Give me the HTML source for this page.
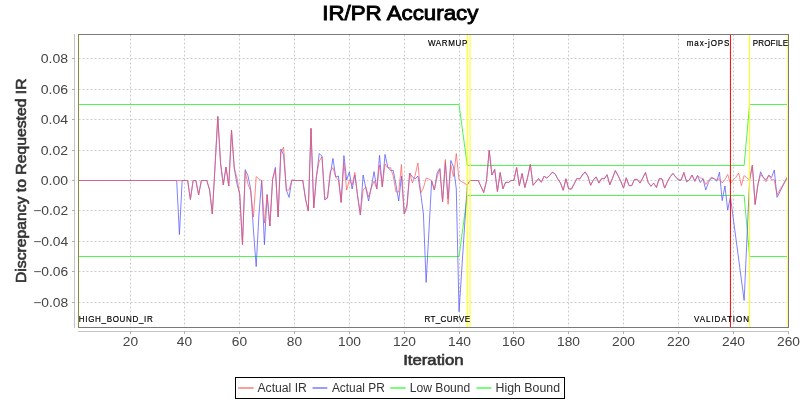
<!DOCTYPE html>
<html><head><meta charset="utf-8"><style>
html,body{margin:0;padding:0;background:#fff;width:800px;height:400px;overflow:hidden}
svg{display:block;will-change:transform}
text{font-family:"Liberation Sans",sans-serif}
</style></head><body>
<svg width="800" height="400" viewBox="0 0 800 400">
<rect width="800" height="400" fill="#fff"/>
<g stroke="#cccccc" stroke-width="1" stroke-dasharray="2 2"><line x1="130.5" y1="34.5" x2="130.5" y2="327" /><line x1="184.5" y1="34.5" x2="184.5" y2="327" /><line x1="239.5" y1="34.5" x2="239.5" y2="327" /><line x1="294.5" y1="34.5" x2="294.5" y2="327" /><line x1="349.5" y1="34.5" x2="349.5" y2="327" /><line x1="404.5" y1="34.5" x2="404.5" y2="327" /><line x1="459.5" y1="34.5" x2="459.5" y2="327" /><line x1="513.5" y1="34.5" x2="513.5" y2="327" /><line x1="568.5" y1="34.5" x2="568.5" y2="327" /><line x1="623.5" y1="34.5" x2="623.5" y2="327" /><line x1="678.5" y1="34.5" x2="678.5" y2="327" /><line x1="733.5" y1="34.5" x2="733.5" y2="327" /><line x1="788.5" y1="34.5" x2="788.5" y2="327" /></g>
<g stroke="#cccccc" stroke-width="1" stroke-dasharray="2 2"><line x1="78.5" y1="302.5" x2="788" y2="302.5" /><line x1="78.5" y1="271.5" x2="788" y2="271.5" /><line x1="78.5" y1="241.5" x2="788" y2="241.5" /><line x1="78.5" y1="210.5" x2="788" y2="210.5" /><line x1="78.5" y1="180.5" x2="788" y2="180.5" /><line x1="78.5" y1="150.5" x2="788" y2="150.5" /><line x1="78.5" y1="119.5" x2="788" y2="119.5" /><line x1="78.5" y1="89.5" x2="788" y2="89.5" /><line x1="78.5" y1="58.5" x2="788" y2="58.5" /></g>
<polyline points="78.00,256.50 459.04,256.50 467.27,195.50 744.14,195.50 749.62,256.50 788.00,256.50" fill="none" stroke="#50f550" stroke-width="1"/>
<polyline points="78.00,104.50 459.04,104.50 467.27,165.50 744.14,165.50 749.62,104.50 788.00,104.50" fill="none" stroke="#50f550" stroke-width="1"/>
<polyline points="78.00,180.50 80.74,180.50 83.48,180.50 86.22,180.50 88.97,180.50 91.71,180.50 94.45,180.50 97.19,180.50 99.93,180.50 102.67,180.50 105.41,180.50 108.15,180.50 110.90,180.50 113.64,180.50 116.38,180.50 119.12,180.50 121.86,180.50 124.60,180.50 127.34,180.50 130.08,180.50 132.83,180.50 135.57,180.50 138.31,180.50 141.05,180.50 143.79,180.50 146.53,180.50 149.27,180.50 152.02,180.50 154.76,180.50 157.50,180.50 160.24,180.50 162.98,180.50 165.72,180.50 168.46,180.50 171.20,180.50 173.95,180.50 176.69,180.50 179.43,234.50 182.17,180.50 184.91,180.50 187.65,180.50 190.39,199.50 193.14,180.50 195.88,180.50 198.62,195.00 201.36,180.50 204.10,180.50 206.84,180.50 209.58,190.00 212.32,214.00 215.07,165.50 217.81,116.50 220.55,163.00 223.29,185.00 226.03,167.00 228.77,186.00 231.51,130.00 234.25,168.00 237.00,184.00 239.74,194.00 242.48,244.50 245.22,169.60 247.96,175.60 250.70,189.00 253.44,230.00 256.19,266.60 258.93,215.00 261.67,180.50 264.41,244.60 267.15,194.60 269.89,226.00 272.63,179.00 275.37,167.40 278.12,217.00 280.86,149.00 283.60,155.00 286.34,190.00 289.08,197.40 291.82,180.00 294.56,180.50 297.31,180.50 300.05,180.50 302.79,180.50 305.53,199.00 308.27,211.00 311.01,128.40 313.75,208.00 316.49,176.00 319.24,153.60 321.98,156.00 324.72,200.00 327.46,198.00 330.20,175.00 332.94,158.40 335.68,177.00 338.42,176.00 341.17,202.40 343.91,155.60 346.65,180.00 349.39,172.00 352.13,189.00 354.87,175.00 357.61,196.00 360.36,215.00 363.10,175.00 365.84,188.00 368.58,201.00 371.32,187.00 374.06,171.60 376.80,189.00 379.54,155.40 382.29,187.00 385.03,154.40 387.77,167.00 390.51,170.40 393.25,170.40 395.99,185.00 398.73,201.00 401.47,176.00 404.22,214.00 406.96,205.00 409.70,173.00 412.44,177.00 415.18,179.00 417.92,176.00 420.66,193.00 423.41,214.00 426.15,282.40 428.89,232.00 431.63,181.00 434.37,190.00 437.11,173.00 439.85,168.50 442.59,202.00 445.34,162.50 448.08,199.00 450.82,160.50 453.56,167.00 456.30,189.00 459.04,311.60 467.27,185.00 470.01,180.50 472.75,180.50 475.49,180.50 478.23,180.50 480.97,186.50 483.71,192.50 486.46,181.25 489.20,150.25 491.94,175.00 494.68,169.40 497.42,191.50 500.16,172.50 502.90,188.75 505.64,182.25 508.39,182.50 511.13,180.50 513.87,180.50 516.61,167.50 519.35,185.60 522.09,173.50 524.83,187.50 527.58,177.50 530.32,164.40 533.06,185.25 535.80,182.00 538.54,178.50 541.28,182.25 544.02,176.25 546.76,178.00 549.51,175.60 552.25,172.25 554.99,173.75 557.73,178.75 560.47,183.00 563.21,190.25 565.95,178.75 568.69,189.00 571.44,189.00 574.18,183.75 576.92,178.50 579.66,179.00 582.40,175.00 585.14,171.90 587.88,176.25 590.63,185.25 593.37,180.00 596.11,176.90 598.85,183.10 601.59,178.50 604.33,178.75 607.07,174.75 609.81,184.75 612.56,178.10 615.30,170.60 618.04,175.60 620.78,181.25 623.52,188.10 626.26,177.75 629.00,185.60 631.75,185.60 634.49,179.40 637.23,179.40 639.97,183.10 642.71,178.10 645.45,172.50 648.19,182.50 650.93,186.25 653.68,183.10 656.42,187.50 659.16,178.75 661.90,178.75 664.64,188.10 667.38,181.90 670.12,176.90 672.86,173.40 675.61,176.90 678.35,180.00 681.09,180.25 683.83,172.50 686.57,181.90 689.31,180.00 692.05,175.00 694.80,181.25 697.54,175.60 700.28,182.50 703.02,178.75 705.76,190.00 708.50,182.25 711.24,178.10 713.98,178.50 716.73,181.25 719.47,172.25 722.21,200.60 724.95,186.00 727.69,210.00 730.43,197.00 744.14,300.40 749.62,180.00 752.36,165.20 755.10,204.50 757.85,185.00 760.59,171.80 763.33,177.50 766.07,179.70 768.81,175.25 771.55,177.50 774.29,170.00 777.03,197.30 788.00,176.00" fill="none" stroke="#5555ff" stroke-opacity="0.75" stroke-width="1" stroke-linejoin="bevel"/>
<polyline points="78.00,180.50 80.74,180.50 83.48,180.50 86.22,180.50 88.97,180.50 91.71,180.50 94.45,180.50 97.19,180.50 99.93,180.50 102.67,180.50 105.41,180.50 108.15,180.50 110.90,180.50 113.64,180.50 116.38,180.50 119.12,180.50 121.86,180.50 124.60,180.50 127.34,180.50 130.08,180.50 132.83,180.50 135.57,180.50 138.31,180.50 141.05,180.50 143.79,180.50 146.53,180.50 149.27,180.50 152.02,180.50 154.76,180.50 157.50,180.50 160.24,180.50 162.98,180.50 165.72,180.50 168.46,180.50 171.20,180.50 173.95,180.50 176.69,180.50 179.43,180.50 182.17,180.50 184.91,180.50 187.65,180.50 190.39,199.50 193.14,180.50 195.88,180.50 198.62,195.00 201.36,180.50 204.10,180.50 206.84,180.50 209.58,190.00 212.32,214.00 215.07,165.50 217.81,116.50 220.55,163.00 223.29,185.00 226.03,167.00 228.77,186.00 231.51,130.00 234.25,168.00 237.00,178.00 239.74,195.00 242.48,244.50 245.22,171.60 247.96,184.00 250.70,191.00 253.44,217.00 256.19,176.60 258.93,179.00 261.67,180.50 264.41,223.00 267.15,194.60 269.89,226.00 272.63,179.00 275.37,170.00 278.12,217.00 280.86,153.00 283.60,147.00 286.34,190.00 289.08,190.00 291.82,180.00 294.56,180.50 297.31,180.50 300.05,180.50 302.79,180.50 305.53,199.00 308.27,211.00 311.01,128.40 313.75,208.00 316.49,176.00 319.24,161.00 321.98,157.00 324.72,198.00 327.46,198.00 330.20,171.60 332.94,167.60 335.68,177.00 338.42,180.00 341.17,202.40 343.91,163.00 346.65,190.00 349.39,180.00 352.13,185.00 354.87,172.40 357.61,196.00 360.36,215.00 363.10,190.00 365.84,187.00 368.58,197.00 371.32,188.00 374.06,181.00 376.80,189.00 379.54,165.00 382.29,187.00 385.03,164.00 387.77,168.00 390.51,167.60 393.25,176.00 395.99,192.00 398.73,192.00 401.47,164.60 404.22,214.00 406.96,208.00 409.70,173.00 412.44,183.00 415.18,175.00 417.92,163.00 420.66,193.00 423.41,188.00 426.15,178.00 428.89,179.00 431.63,180.50 434.37,190.00 437.11,177.00 439.85,169.00 442.59,202.00 445.34,159.50 448.08,204.40 450.82,165.00 453.56,176.50 456.30,153.50 459.04,180.00 467.27,185.00 470.01,180.50 472.75,180.50 475.49,180.50 478.23,180.50 480.97,186.50 483.71,192.50 486.46,181.25 489.20,150.25 491.94,175.00 494.68,169.40 497.42,191.50 500.16,172.50 502.90,188.75 505.64,182.25 508.39,182.50 511.13,180.50 513.87,180.50 516.61,167.50 519.35,185.60 522.09,173.50 524.83,187.50 527.58,177.50 530.32,164.40 533.06,185.25 535.80,182.00 538.54,178.50 541.28,182.25 544.02,176.25 546.76,178.00 549.51,175.60 552.25,172.25 554.99,173.75 557.73,178.75 560.47,183.00 563.21,190.25 565.95,178.75 568.69,189.00 571.44,189.00 574.18,183.75 576.92,178.50 579.66,179.00 582.40,175.00 585.14,171.90 587.88,176.25 590.63,185.25 593.37,180.00 596.11,176.90 598.85,183.10 601.59,178.50 604.33,178.75 607.07,174.75 609.81,184.75 612.56,178.10 615.30,170.60 618.04,175.60 620.78,181.25 623.52,188.10 626.26,177.75 629.00,185.60 631.75,185.60 634.49,179.40 637.23,179.40 639.97,183.10 642.71,178.10 645.45,172.50 648.19,182.50 650.93,186.25 653.68,183.10 656.42,187.50 659.16,178.75 661.90,178.75 664.64,188.10 667.38,181.90 670.12,176.90 672.86,173.40 675.61,176.90 678.35,179.40 681.09,180.25 683.83,172.50 686.57,181.25 689.31,180.00 692.05,175.00 694.80,181.25 697.54,175.60 700.28,177.75 703.02,178.75 705.76,184.40 708.50,180.60 711.24,177.25 713.98,178.50 716.73,180.00 719.47,178.75 722.21,183.00 724.95,179.40 727.69,174.40 730.43,183.50 733.17,180.00 735.92,177.25 738.66,173.00 741.40,185.60 744.14,175.60 746.88,178.00 749.62,180.00 752.36,165.20 755.10,204.50 757.85,185.00 760.59,174.50 763.33,177.50 766.07,181.70 768.81,175.25 771.55,179.75 774.29,179.75 777.03,194.70 788.00,176.00" fill="none" stroke="#ff5555" stroke-opacity="0.7" stroke-width="1" stroke-linejoin="bevel"/>
<g stroke-width="1">
<line x1="467.27" y1="34" x2="467.27" y2="327.5" stroke="#ffff00"/>
<line x1="470.01" y1="34" x2="470.01" y2="327.5" stroke="#ffff00"/>
<line x1="730.43" y1="34" x2="730.43" y2="327.5" stroke="#ff0000"/>
<line x1="749.62" y1="34" x2="749.62" y2="327.5" stroke="#ffff00"/>
<line x1="787.5" y1="34" x2="787.5" y2="327" stroke="#ffff70" shape-rendering="crispEdges"/>
</g>
<g shape-rendering="crispEdges" stroke-width="1" fill="none">
<line x1="78" y1="34.5" x2="789" y2="34.5" stroke="#7a7a7a"/>
<line x1="78" y1="327.5" x2="789" y2="327.5" stroke="#7a7a7a"/>
<line x1="788.5" y1="34" x2="788.5" y2="328" stroke="#7a7a7a"/>
<line x1="78.5" y1="34" x2="78.5" y2="328" stroke="#8a8a40"/>
<line x1="74.5" y1="34" x2="74.5" y2="328" stroke="#c4c4c4"/>
<line x1="78" y1="331.5" x2="789" y2="331.5" stroke="#c4c4c4"/>
<g stroke="#b0b0b0"><line x1="130.5" y1="331" x2="130.5" y2="334"/><line x1="184.5" y1="331" x2="184.5" y2="334"/><line x1="239.5" y1="331" x2="239.5" y2="334"/><line x1="294.5" y1="331" x2="294.5" y2="334"/><line x1="349.5" y1="331" x2="349.5" y2="334"/><line x1="404.5" y1="331" x2="404.5" y2="334"/><line x1="459.5" y1="331" x2="459.5" y2="334"/><line x1="513.5" y1="331" x2="513.5" y2="334"/><line x1="568.5" y1="331" x2="568.5" y2="334"/><line x1="623.5" y1="331" x2="623.5" y2="334"/><line x1="678.5" y1="331" x2="678.5" y2="334"/><line x1="733.5" y1="331" x2="733.5" y2="334"/><line x1="788.5" y1="331" x2="788.5" y2="334"/><line x1="72" y1="302.5" x2="75" y2="302.5"/><line x1="72" y1="271.5" x2="75" y2="271.5"/><line x1="72" y1="241.5" x2="75" y2="241.5"/><line x1="72" y1="210.5" x2="75" y2="210.5"/><line x1="72" y1="180.5" x2="75" y2="180.5"/><line x1="72" y1="150.5" x2="75" y2="150.5"/><line x1="72" y1="119.5" x2="75" y2="119.5"/><line x1="72" y1="89.5" x2="75" y2="89.5"/><line x1="72" y1="58.5" x2="75" y2="58.5"/></g>
</g>
<text x="322.2" y="19.8" font-size="21" font-weight="normal" fill="#000" stroke="#000" stroke-width="0.9" textLength="156.2" lengthAdjust="spacingAndGlyphs" font-family="Liberation Sans, sans-serif">IR/PR Accuracy</text>
<text x="403.2" y="365.1" font-size="14" font-weight="normal" fill="#333" stroke="#333" stroke-width="0.6" textLength="60.4" lengthAdjust="spacingAndGlyphs" font-family="Liberation Sans, sans-serif">Iteration</text>
<text transform="translate(25.6,283) rotate(-90)" x="0" y="0" font-size="14" font-weight="normal" fill="#333" stroke="#333" stroke-width="0.6" textLength="204.5" lengthAdjust="spacingAndGlyphs" font-family="Liberation Sans, sans-serif">Discrepancy to Requested IR</text>
<text x="122.85" y="346" font-size="12.4" fill="#444" textLength="15.3" lengthAdjust="spacingAndGlyphs" font-family="Liberation Sans, sans-serif">20</text>
<text x="176.85" y="346" font-size="12.4" fill="#444" textLength="15.3" lengthAdjust="spacingAndGlyphs" font-family="Liberation Sans, sans-serif">40</text>
<text x="231.85" y="346" font-size="12.4" fill="#444" textLength="15.3" lengthAdjust="spacingAndGlyphs" font-family="Liberation Sans, sans-serif">60</text>
<text x="286.85" y="346" font-size="12.4" fill="#444" textLength="15.3" lengthAdjust="spacingAndGlyphs" font-family="Liberation Sans, sans-serif">80</text>
<text x="338.00" y="346" font-size="12.4" fill="#444" textLength="23.0" lengthAdjust="spacingAndGlyphs" font-family="Liberation Sans, sans-serif">100</text>
<text x="393.00" y="346" font-size="12.4" fill="#444" textLength="23.0" lengthAdjust="spacingAndGlyphs" font-family="Liberation Sans, sans-serif">120</text>
<text x="448.00" y="346" font-size="12.4" fill="#444" textLength="23.0" lengthAdjust="spacingAndGlyphs" font-family="Liberation Sans, sans-serif">140</text>
<text x="502.00" y="346" font-size="12.4" fill="#444" textLength="23.0" lengthAdjust="spacingAndGlyphs" font-family="Liberation Sans, sans-serif">160</text>
<text x="557.00" y="346" font-size="12.4" fill="#444" textLength="23.0" lengthAdjust="spacingAndGlyphs" font-family="Liberation Sans, sans-serif">180</text>
<text x="612.00" y="346" font-size="12.4" fill="#444" textLength="23.0" lengthAdjust="spacingAndGlyphs" font-family="Liberation Sans, sans-serif">200</text>
<text x="667.00" y="346" font-size="12.4" fill="#444" textLength="23.0" lengthAdjust="spacingAndGlyphs" font-family="Liberation Sans, sans-serif">220</text>
<text x="722.00" y="346" font-size="12.4" fill="#444" textLength="23.0" lengthAdjust="spacingAndGlyphs" font-family="Liberation Sans, sans-serif">240</text>
<text x="777.00" y="346" font-size="12.4" fill="#444" textLength="23.0" lengthAdjust="spacingAndGlyphs" font-family="Liberation Sans, sans-serif">260</text>
<text x="33.20" y="307.10" font-size="12.4" fill="#444" textLength="35.0" lengthAdjust="spacingAndGlyphs" font-family="Liberation Sans, sans-serif">−0.08</text>
<text x="33.20" y="276.10" font-size="12.4" fill="#444" textLength="35.0" lengthAdjust="spacingAndGlyphs" font-family="Liberation Sans, sans-serif">−0.06</text>
<text x="33.20" y="246.10" font-size="12.4" fill="#444" textLength="35.0" lengthAdjust="spacingAndGlyphs" font-family="Liberation Sans, sans-serif">−0.04</text>
<text x="33.20" y="215.10" font-size="12.4" fill="#444" textLength="35.0" lengthAdjust="spacingAndGlyphs" font-family="Liberation Sans, sans-serif">−0.02</text>
<text x="40.80" y="185.10" font-size="12.4" fill="#444" textLength="27.4" lengthAdjust="spacingAndGlyphs" font-family="Liberation Sans, sans-serif">0.00</text>
<text x="40.80" y="155.10" font-size="12.4" fill="#444" textLength="27.4" lengthAdjust="spacingAndGlyphs" font-family="Liberation Sans, sans-serif">0.02</text>
<text x="40.80" y="124.10" font-size="12.4" fill="#444" textLength="27.4" lengthAdjust="spacingAndGlyphs" font-family="Liberation Sans, sans-serif">0.04</text>
<text x="40.80" y="94.10" font-size="12.4" fill="#444" textLength="27.4" lengthAdjust="spacingAndGlyphs" font-family="Liberation Sans, sans-serif">0.06</text>
<text x="40.80" y="63.10" font-size="12.4" fill="#444" textLength="27.4" lengthAdjust="spacingAndGlyphs" font-family="Liberation Sans, sans-serif">0.08</text>
<text transform="translate(427.9,45.9) scale(0.82,1)" x="0" y="0" font-size="9.8" fill="#000" stroke="#000" stroke-width="0.2" textLength="48.05" lengthAdjust="spacing" font-family="Liberation Sans, sans-serif">WARMUP</text>
<text transform="translate(686.8,45.9) scale(0.82,1)" x="0" y="0" font-size="9.8" fill="#000" stroke="#000" stroke-width="0.2" textLength="51.95" lengthAdjust="spacing" font-family="Liberation Sans, sans-serif">max-jOPS</text>
<text transform="translate(752.8,45.9) scale(0.82,1)" x="0" y="0" font-size="9.8" fill="#000" stroke="#000" stroke-width="0.2" textLength="42.93" lengthAdjust="spacing" font-family="Liberation Sans, sans-serif">PROFILE</text>
<text transform="translate(78.8,321.8) scale(0.82,1)" x="0" y="0" font-size="9.8" fill="#000" stroke="#000" stroke-width="0.2" textLength="90.24" lengthAdjust="spacing" font-family="Liberation Sans, sans-serif">HIGH_BOUND_IR</text>
<text transform="translate(424.5,321.8) scale(0.82,1)" x="0" y="0" font-size="9.8" fill="#000" stroke="#000" stroke-width="0.2" textLength="55.49" lengthAdjust="spacing" font-family="Liberation Sans, sans-serif">RT_CURVE</text>
<text transform="translate(694,321.8) scale(0.82,1)" x="0" y="0" font-size="9.8" fill="#000" stroke="#000" stroke-width="0.2" textLength="67.07" lengthAdjust="spacing" font-family="Liberation Sans, sans-serif">VALIDATION</text>
<rect x="235.5" y="377.5" width="329" height="21" fill="none" stroke="#000" stroke-width="1" shape-rendering="crispEdges"/>
<line x1="238.2" y1="388" x2="253.6" y2="388" stroke="#ff9c9c" stroke-width="2"/>
<text x="257.4" y="391.8" font-size="12" fill="#333" textLength="49.5" lengthAdjust="spacingAndGlyphs" font-family="Liberation Sans, sans-serif">Actual IR</text>
<line x1="312.5" y1="388" x2="327.3" y2="388" stroke="#9c9cff" stroke-width="2"/>
<text x="331.9" y="391.8" font-size="12" fill="#333" textLength="52.9" lengthAdjust="spacingAndGlyphs" font-family="Liberation Sans, sans-serif">Actual PR</text>
<line x1="390.3" y1="388" x2="405.6" y2="388" stroke="#77ff77" stroke-width="2"/>
<text x="409.8" y="391.8" font-size="12" fill="#333" textLength="60.5" lengthAdjust="spacingAndGlyphs" font-family="Liberation Sans, sans-serif">Low Bound</text>
<line x1="476.5" y1="388" x2="491.3" y2="388" stroke="#77ff77" stroke-width="2"/>
<text x="495.6" y="391.8" font-size="12" fill="#333" textLength="64.4" lengthAdjust="spacingAndGlyphs" font-family="Liberation Sans, sans-serif">High Bound</text>
</svg></body></html>
